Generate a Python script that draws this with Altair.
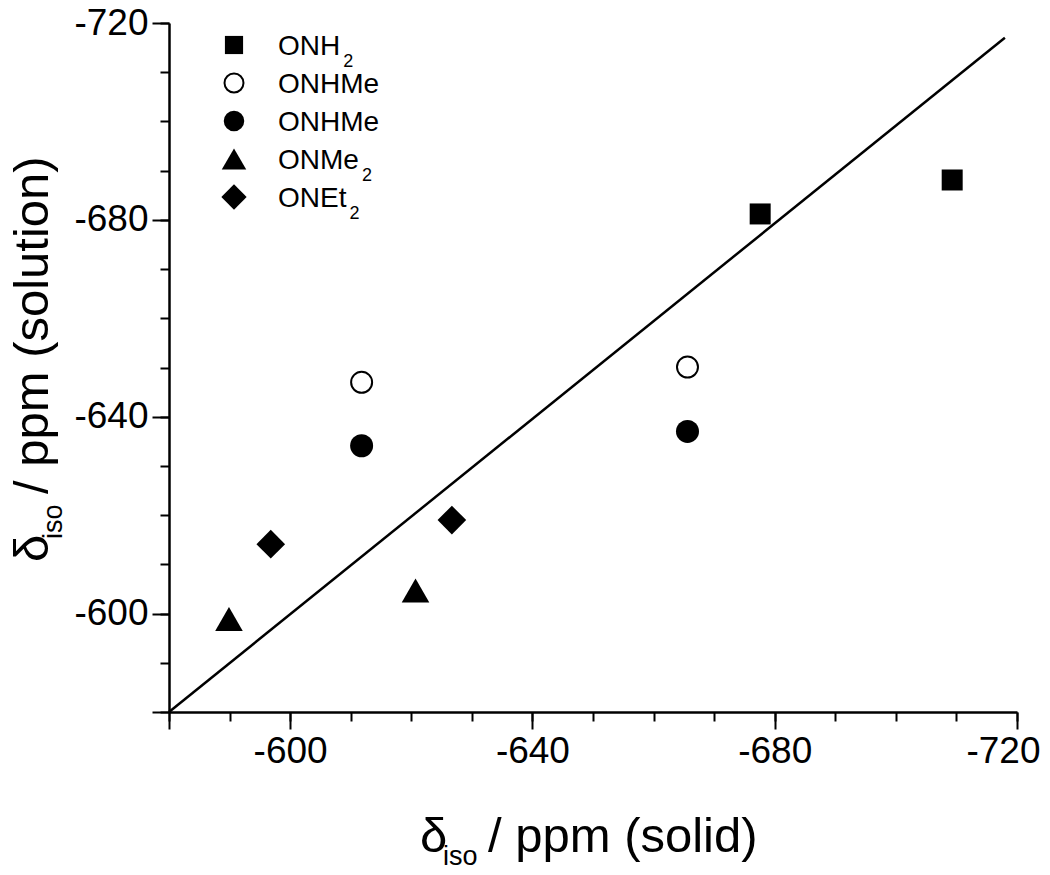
import altair as alt
import pandas as pd

# ---------------- data ----------------
onh2_solid = [-677.6, -709.3]
onh2_solution = [-681.2, -688.1]

onhme_open_solid = [-611.8, -665.6]
onhme_open_solution = [-647.0, -650.1]

onhme_filled_solid = [-611.8, -665.6]
onhme_filled_solution = [-634.1, -637.0]

onme2_solid = [-589.9, -620.7]
onme2_solution = [-598.9, -604.7]

onet2_solid = [-596.8, -626.7]
onet2_solution = [-614.1, -619.0]

line_solid = [-580, -718]
line_solution = [-580, -717]

major_ticks = [-580, -600, -640, -680, -720]
minor_ticks = list(range(-580, -721, -10))

legend_main = ["ONH", "ONHMe", "ONHMe", "ONMe", "ONEt"]
legend_sub = ["2", "", "", "2", "2"]

# ---------------- layout ----------------
FONT = "Liberation Sans"
W, H = 848, 689
PAD = {"left": 161, "top": 15, "right": 1034 - 161 - W, "bottom": 858 - 15 - H}
DOMAIN = [-580, -720]

xs = alt.Scale(domain=DOMAIN, nice=False, zero=False)
ys = alt.Scale(domain=DOMAIN, nice=False, zero=False)

label_expr = "datum.value === -580 ? '' : '-' + abs(datum.value)"

def major_axis(orient, pad, **extra):
    return alt.Axis(orient=orient, values=major_ticks, title=None, grid=False,
                    labelExpr=label_expr, tickSize=17, tickWidth=2, tickColor="black",
                    domainColor="black", domainWidth=2.5, labelFont=FONT,
                    labelFontSize=37, labelColor="black", labelPadding=pad,
                    labelFlush=False, labelOverlap=False, **extra)

def minor_axis(orient):
    return alt.Axis(orient=orient, values=minor_ticks, title=None, grid=False,
                    labels=False, domain=False, tickSize=9, tickWidth=2,
                    tickColor="black")

def df(sx, sy):
    return pd.DataFrame({"solid": sx, "solution": sy})

line = alt.Chart(df(line_solid, line_solution)).mark_line(
    color="black", strokeWidth=2.5).encode(
    x=alt.X("solid:Q", scale=xs, axis=minor_axis("bottom")),
    y=alt.Y("solution:Q", scale=ys, axis=minor_axis("left")))

def pts(sx, sy, axis_x=None, axis_y=None, **mk):
    return alt.Chart(df(sx, sy)).mark_point(**mk).encode(
        x=alt.X("solid:Q", scale=xs, axis=axis_x),
        y=alt.Y("solution:Q", scale=ys, axis=axis_y))

x_major = major_axis("bottom", 4, labelOffset={"condition": {"test": "datum.value === -720", "value": -14}, "value": 0})
y_major = major_axis("left", 4)

sq = pts(onh2_solid, onh2_solution, x_major, y_major,
         shape="square", size=441, filled=True, color="black", opacity=1)
oc = pts(onhme_open_solid, onhme_open_solution, shape="circle", size=441,
         filled=False, color="black", fill="white", fillOpacity=1, strokeWidth=2, opacity=1)
fc = pts(onhme_filled_solid, onhme_filled_solution, shape="circle", size=529,
         filled=True, color="black", opacity=1)
tr = pts(onme2_solid, onme2_solution, shape="triangle-up", size=760,
         filled=True, color="black", opacity=1)
dm = pts(onet2_solid, onet2_solution, shape="diamond", size=820,
         filled=True, color="black", opacity=1)

# ---------------- text helpers ----------------
one = pd.DataFrame({"a": [0]})

def txt(s, x, y, size, angle=0):
    return alt.Chart(one).mark_text(text=s, font=FONT, fontSize=size, color="black",
                                    align="left", baseline="alphabetic",
                                    angle=angle).encode(x=alt.value(x), y=alt.value(y))

# axis titles (with subscript)
x_title = [txt("δ", 251, 829, 49), txt("iso", 274, 842, 27), txt("/ ppm (solid)", 319, 829, 49)]
y_title = [txt("δ", -121, 539, 49, 270), txt("iso", -107, 516, 27, 270),
           txt("/ ppm (solution)", -121, 471, 49, 270)]

# legend
WIDTHS = {"O": .778, "N": .722, "H": .722, "M": .833, "e": .556, "E": .667, "t": .278}
shapes = [
    dict(shape="square", size=330, filled=True, color="black", opacity=1),
    dict(shape="circle", size=360, filled=False, color="black", fill="white", fillOpacity=1, strokeWidth=2, opacity=1),
    dict(shape="circle", size=420, filled=True, color="black", opacity=1),
    dict(shape="triangle-up", size=600, filled=True, color="black", opacity=1),
    dict(shape="diamond", size=640, filled=True, color="black", opacity=1),
]
legend_layers = []
for k, (m, s) in enumerate(zip(legend_main, legend_sub)):
    yc = 22 + 38 * k
    legend_layers.append(alt.Chart(one).mark_point(**shapes[k]).encode(
        x=alt.value(65), y=alt.value(yc)))
    legend_layers.append(txt(m, 109, yc + 10, 28))
    if s:
        wpx = sum(WIDTHS[c] for c in m) * 28
        legend_layers.append(txt(s, 109 + wpx + 3, yc + 22, 18))

chart = alt.layer(line, oc, fc, tr, dm, sq, *x_title, *y_title, *legend_layers).resolve_axis(
    x="independent", y="independent"
).properties(
    width=W, height=H, padding=PAD, autosize=alt.AutoSizeParams(type="none"),
    background="white"
).configure_view(stroke=None)

chart.save("out.html", embed_options={"renderer": "svg", "actions": False})
